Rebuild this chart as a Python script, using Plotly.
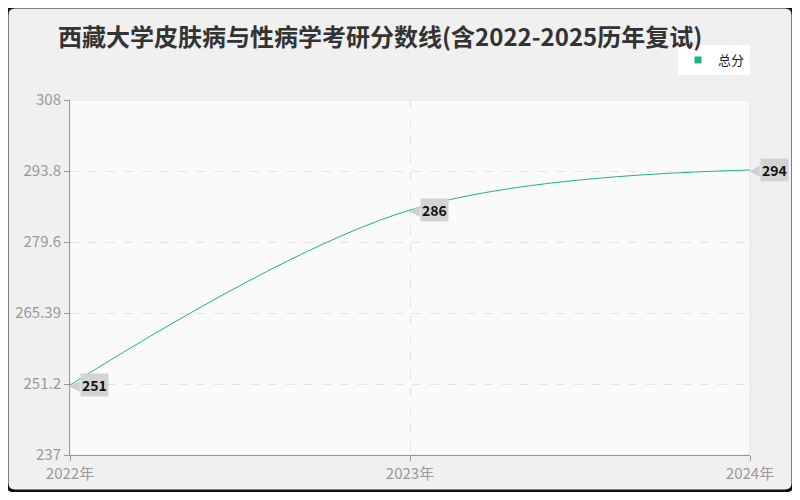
import plotly.graph_objects as go

years = ["2022年", "2023年", "2024年"]
scores = [251, 286, 294]
y_ticks = [237, 251.2, 265.39, 279.6, 293.8, 308]
series_name = "总分"
title = "西藏大学皮肤病与性病学考研分数线(含2022-2025历年复试)"

line_color = "#20b483"
font = "Noto Sans CJK SC"

# page body adds 8px margin, so the figure is drawn 8px smaller
W, H = 784, 484
L, R, T, B = 62, 42, 92, 37
pw, ph = W - L - R, H - T - B


def px_x(p):
    return (p - L) / pw


def px_y(p):
    return (H - B - p) / ph


fig = go.Figure()
fig.add_trace(go.Scatter(
    x=years, y=scores, name=series_name, mode="lines",
    line=dict(color=line_color, width=1, shape="spline", smoothing=1.0),
    showlegend=False,
))
fig.add_trace(go.Scatter(
    x=[None], y=[None], name=series_name, mode="markers",
    marker=dict(symbol="square", size=7, color=line_color),
))

for x, y in zip(years, scores):
    fig.add_annotation(x=x, y=y, text="◀", showarrow=False, xanchor="left",
                       yanchor="middle", xshift=-3,
                       font=dict(size=14, color="#cfcfcf", family="DejaVu Sans"))
    fig.add_annotation(x=x, y=y, text="<b>%d</b>" % y, showarrow=False,
                       xanchor="left", yanchor="middle", xshift=10,
                       bgcolor="#d3d3d3", borderpad=1,
                       font=dict(size=14, color="#111111", family=font))

# outer card with rounded corners
x0, x1 = px_x(-1), px_x(W + 1)
y0, y1 = px_y(H - 1), px_y(-1)
r = 8
rx, ry = r / pw, r / ph
path = (f"M {x0+rx},{y0} L {x1-rx},{y0} Q {x1},{y0} {x1},{y0+ry} "
        f"L {x1},{y1-ry} Q {x1},{y1} {x1-rx},{y1} L {x0+rx},{y1} "
        f"Q {x0},{y1} {x0},{y1-ry} L {x0},{y0+ry} Q {x0},{y0} {x0+rx},{y0} Z")
fig.add_shape(type="path", path=path, xref="paper", yref="paper",
              fillcolor="#f0f0f0", line=dict(color="#111111", width=3),
              layer="below")
fig.add_shape(type="rect", xref="paper", yref="paper", x0=0, x1=1, y0=0, y1=1,
              fillcolor="#fafafa", line=dict(color="#e6e6e6", width=1),
              layer="below")

fig.update_layout(
    width=W, height=H,
    margin=dict(l=L, r=R, t=T, b=B, autoexpand=False),
    paper_bgcolor="#ffffff",
    plot_bgcolor="rgba(0,0,0,0)",
    font=dict(family=font, color="#999999", size=15),
    title=dict(text="<b>" + title + "</b>", x=50 / W, xanchor="left",
               xref="container", y=1 - 30 / H, yanchor="middle",
               yref="container",
               font=dict(size=24, color="#333333", family=font)),
    legend=dict(x=1, xanchor="right", y=px_y(37), yanchor="top",
                bgcolor="#ffffff", font=dict(size=13, color="#222222"),
                itemwidth=30, tracegroupgap=0),
    xaxis=dict(
        range=[0, 2], showgrid=True, gridcolor="#e3e3e3", griddash="dash",
        showline=True, linecolor="#999999", ticks="outside", ticklen=5,
        tickcolor="#999999", zeroline=False, automargin=False,
    ),
    yaxis=dict(
        range=[237, 308], tickvals=y_ticks, ticktext=[str(v) for v in y_ticks],
        showgrid=True, gridcolor="#e3e3e3", griddash="dash",
        showline=True, linecolor="#999999", ticks="outside", ticklen=5,
        tickcolor="#999999", zeroline=False, automargin=False,
    ),
)

fig.write_html("out.html")
